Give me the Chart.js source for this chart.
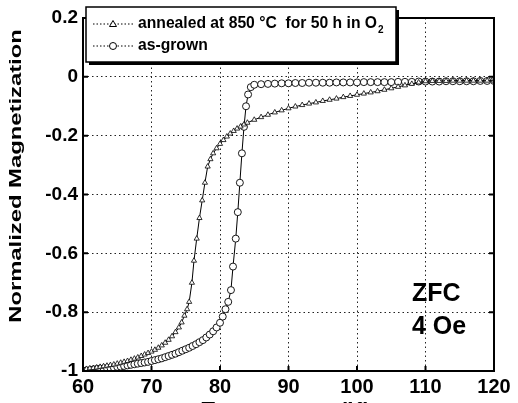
<!DOCTYPE html>
<html>
<head>
<meta charset="utf-8">
<script src="https://cdn.jsdelivr.net/npm/chart.js@4/dist/chart.umd.min.js"></script>
<style>
html, body { margin: 0; padding: 0; background: #fff; overflow: hidden; }
canvas { display: block; }
</style>
</head>
<body>
<canvas id="chart" width="518" height="403"></canvas>
<script>
// as-grown sample (circles)
const tempGrown = [
  60, 60.5, 61, 61.5, 62, 62.5, 63, 63.5, 64, 64.5, 65, 65.5, 66, 66.5, 67, 67.5, 68, 68.5, 69, 69.5,
  70, 70.5, 71, 71.5, 72, 72.5, 73, 73.5, 74, 74.5, 75, 75.5, 76, 76.5, 77, 77.5, 78, 78.5, 79, 79.5,
  80, 80.4, 80.8, 81.2, 81.6, 81.9, 82.3, 82.6, 82.9, 83.2, 83.5, 83.8, 84.1, 84.5, 85,
  86, 87, 88, 89, 90, 91, 92, 93, 94, 95, 96, 97, 98, 99, 100, 101, 102, 103, 104, 105,
  106, 107, 108, 109, 110, 111, 112, 113, 114, 115, 116, 117, 118, 119, 120
];
const magGrown = [
  -1.0, -0.998, -0.997, -0.995, -0.993, -0.992, -0.991, -0.99, -0.989, -0.988, -0.986, -0.985, -0.983, -0.981, -0.979, -0.977, -0.975, -0.973, -0.971, -0.969,
  -0.966, -0.963, -0.96, -0.957, -0.953, -0.949, -0.945, -0.941, -0.936, -0.931, -0.926, -0.921, -0.915, -0.909, -0.902, -0.895, -0.886, -0.876, -0.865, -0.852,
  -0.836, -0.815, -0.79, -0.765, -0.725, -0.645, -0.55, -0.46, -0.36, -0.26, -0.17, -0.1, -0.06, -0.035, -0.027,
  -0.025, -0.024, -0.023, -0.022, -0.022, -0.021, -0.021, -0.02, -0.02, -0.02, -0.02, -0.019, -0.019, -0.019, -0.019, -0.018, -0.018, -0.018, -0.018, -0.018,
  -0.017, -0.017, -0.017, -0.016, -0.016, -0.016, -0.016, -0.015, -0.015, -0.015, -0.015, -0.015, -0.014, -0.014, -0.014
];

// annealed at 850 C for 50 h in O2 (triangles)
const tempAnnealed = [
  60, 60.5, 61, 61.5, 62, 62.5, 63, 63.5, 64, 64.5, 65, 65.5, 66, 66.5, 67, 67.5, 68, 68.5, 69, 69.5,
  70, 70.5, 71, 71.5, 72, 72.5, 73, 73.5, 74, 74.4, 74.8, 75.2, 75.5, 75.9, 76.2, 76.6, 77, 77.4, 77.8, 78.2,
  78.6, 79, 79.5, 80, 80.5, 81, 81.5, 82, 82.5, 83, 83.5, 84, 85, 86, 87, 88, 89, 90,
  91, 92, 93, 94, 95, 96, 97, 98, 99, 100, 101, 102, 103, 104, 105, 106, 107, 108, 109, 110,
  111, 112, 113, 114, 115, 116, 117, 118, 119, 120
];
const magAnnealed = [
  -0.995, -0.993, -0.991, -0.99, -0.988, -0.986, -0.984, -0.982, -0.98, -0.978, -0.975, -0.972, -0.969, -0.966, -0.962, -0.958, -0.954, -0.949, -0.944, -0.939,
  -0.934, -0.928, -0.921, -0.913, -0.904, -0.894, -0.882, -0.868, -0.852, -0.835, -0.812, -0.79, -0.765, -0.7, -0.625, -0.55, -0.48, -0.42, -0.36, -0.305,
  -0.28, -0.26, -0.243, -0.228, -0.215, -0.203, -0.193, -0.184, -0.176, -0.169, -0.162, -0.156, -0.146, -0.137, -0.129, -0.121, -0.114, -0.107,
  -0.101, -0.096, -0.091, -0.087, -0.082, -0.078, -0.074, -0.069, -0.065, -0.061, -0.057, -0.053, -0.049, -0.044, -0.039, -0.034, -0.029, -0.024, -0.019, -0.015,
  -0.014, -0.014, -0.014, -0.013, -0.013, -0.013, -0.013, -0.013, -0.013, -0.013
];

const xTicks = [60, 70, 80, 90, 100, 110, 120];
const yTicks = [0.2, 0, -0.2, -0.4, -0.6, -0.8, -1];
const labelAnnealed = 'annealed at 850 \u00B0C  for 50 h in O';
const labelGrown = 'as-grown';

const FONT = '"Liberation Sans", Arial, sans-serif';

function toPoints(xs, ys) {
  return xs.map((x, i) => ({ x: x, y: ys[i] }));
}

// text stretched along its own direction, like the scanned original
function wideText(ctx, text, x, y, stretch) {
  ctx.save();
  ctx.translate(x, y);
  ctx.scale(stretch, 1);
  ctx.fillText(text, 0, 0);
  ctx.restore();
}

// frame, inner ticks, legend box, annotations and axis titles
const decorations = {
  id: 'decorations',
  afterDraw(chart) {
    const ctx = chart.ctx;
    const a = chart.chartArea;
    const xs = chart.scales.x;
    const ys = chart.scales.y;
    ctx.save();

    // frame
    ctx.strokeStyle = '#000';
    ctx.lineWidth = 2;
    ctx.strokeRect(a.left, a.top, a.right - a.left, a.bottom - a.top);

    // inward tick marks
    xTicks.forEach(v => {
      const px = xs.getPixelForValue(v);
      ctx.beginPath();
      ctx.moveTo(px, a.bottom);
      ctx.lineTo(px, a.bottom - 5);
      ctx.stroke();
    });
    yTicks.forEach(v => {
      const py = ys.getPixelForValue(v);
      ctx.beginPath();
      ctx.moveTo(a.right, py);
      ctx.lineTo(a.right - 5, py);
      ctx.moveTo(a.left, py);
      ctx.lineTo(a.left + 5, py);
      ctx.stroke();
    });

    // legend box with shadow
    const bx = 86, by = 7, bw = 310, bh = 55;
    ctx.fillStyle = '#000';
    ctx.fillRect(bx + 3, by + 3, bw, bh);
    ctx.fillStyle = '#fff';
    ctx.fillRect(bx, by, bw, bh);
    ctx.lineWidth = 1.5;
    ctx.strokeRect(bx, by, bw, bh);

    const rows = [
      { y: 24, style: 'triangle', text: labelAnnealed, sub: '2' },
      { y: 46, style: 'circle', text: labelGrown, sub: '' }
    ];
    rows.forEach(r => {
      ctx.strokeStyle = '#000';
      ctx.lineWidth = 1;
      ctx.setLineDash([1.5, 2]);
      ctx.beginPath();
      ctx.moveTo(93, r.y);
      ctx.lineTo(134, r.y);
      ctx.stroke();
      ctx.setLineDash([]);
      ctx.fillStyle = '#fff';
      ctx.beginPath();
      if (r.style === 'circle') {
        ctx.arc(113, r.y, 3.5, 0, Math.PI * 2);
      } else {
        ctx.moveTo(113, r.y - 3.5);
        ctx.lineTo(116.5, r.y + 2.5);
        ctx.lineTo(109.5, r.y + 2.5);
        ctx.closePath();
      }
      ctx.fill();
      ctx.stroke();

      ctx.fillStyle = '#000';
      ctx.font = 'bold 15.7px ' + FONT;
      ctx.textAlign = 'left';
      ctx.textBaseline = 'middle';
      ctx.fillText(r.text, 138, r.y);
      if (r.sub) {
        const w = ctx.measureText(r.text).width;
        ctx.font = 'bold 10px ' + FONT;
        ctx.fillText(r.sub, 138 + w + 1, r.y + 6);
      }
    });

    // ZFC annotation
    ctx.fillStyle = '#000';
    ctx.font = 'bold 25px ' + FONT;
    ctx.textAlign = 'left';
    ctx.textBaseline = 'middle';
    ctx.fillText('ZFC', 412, 294);
    ctx.fillText('4 Oe', 412, 327);

    // axis titles
    ctx.font = 'bold 17px ' + FONT;
    ctx.textAlign = 'center';
    ctx.textBaseline = 'top';
    wideText(ctx, 'Temperature (K)', 286, 401, 1.3);

    ctx.translate(16, 176);
    ctx.rotate(-Math.PI / 2);
    ctx.textBaseline = 'middle';
    wideText(ctx, 'Normalized Magnetization', 0, 0, 1.4);

    ctx.restore();
  }
};

const gridStyle = {
  color: '#222',
  lineWidth: 1,
  drawTicks: false
};

new Chart(document.getElementById('chart'), {
  type: 'line',
  data: {
    datasets: [
      {
        label: labelAnnealed + '2',
        data: toPoints(tempAnnealed, magAnnealed),
        borderColor: '#000',
        borderWidth: 1,
        pointStyle: 'triangle',
        pointRadius: 3,
        pointBackgroundColor: '#fff',
        pointBorderColor: '#000',
        pointBorderWidth: 0.8,
        tension: 0
      },
      {
        label: labelGrown,
        data: toPoints(tempGrown, magGrown),
        borderColor: '#000',
        borderWidth: 1,
        pointStyle: 'circle',
        pointRadius: 3.5,
        pointBackgroundColor: '#fff',
        pointBorderColor: '#000',
        pointBorderWidth: 0.9,
        tension: 0
      }
    ]
  },
  options: {
    responsive: false,
    animation: false,
    layout: { padding: { top: 18, right: 24, bottom: 0, left: 0 } },
    plugins: {
      legend: { display: false },
      tooltip: { enabled: false }
    },
    scales: {
      x: {
        type: 'linear',
        min: 60,
        max: 120,
        afterBuildTicks: scale => { scale.ticks = xTicks.map(v => ({ value: v })); },
        afterFit: scale => { scale.height = 32; },
        grid: gridStyle,
        border: { display: false, dash: [1.5, 3] },
        ticks: {
          color: '#000',
          padding: 4,
          font: { family: FONT, size: 20, weight: 'bold' },
          maxRotation: 0
        }
      },
      y: {
        min: -1,
        max: 0.2,
        afterBuildTicks: scale => { scale.ticks = yTicks.map(v => ({ value: v })); },
        afterFit: scale => { scale.width = 83; },
        grid: gridStyle,
        border: { display: false, dash: [1.5, 3] },
        ticks: {
          color: '#000',
          padding: 5,
          font: { family: FONT, size: 19, weight: 'bold' },
          callback: v => (Math.abs(v) < 1e-9 ? '0' : String(Math.round(v * 10) / 10))
        }
      }
    }
  },
  plugins: [decorations]
});
</script>
</body>
</html>
